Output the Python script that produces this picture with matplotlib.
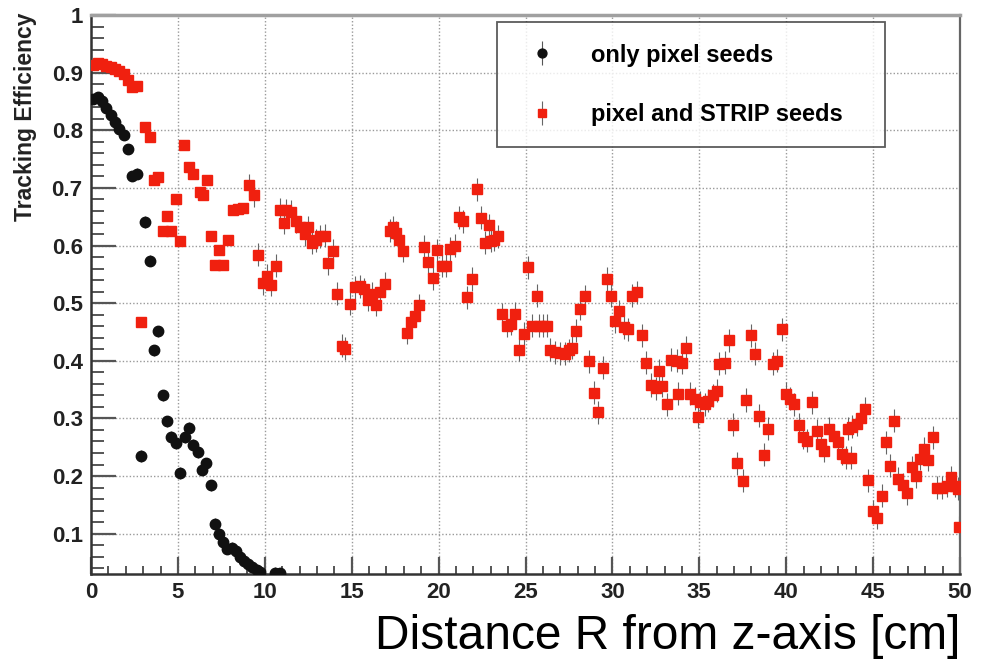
import matplotlib
matplotlib.use("Agg")
import matplotlib.pyplot as plt
import numpy as np
from matplotlib.ticker import MultipleLocator, FormatStrFormatter

plt.rcParams["font.family"] = ["Liberation Sans", "DejaVu Sans"]

# only pixel seeds
pix_x = [0.13, 0.38, 0.63, 0.88, 1.13, 1.38, 1.63, 1.88, 2.13, 2.38, 2.63, 2.88,
         3.13, 3.38, 3.63, 3.88, 4.13, 4.38, 4.63, 4.88, 5.13, 5.38, 5.63, 5.88,
         6.13, 6.38, 6.63, 6.88, 7.13, 7.38, 7.60, 7.80, 8.10, 8.35, 8.57, 8.82,
         9.05, 9.28, 9.53, 9.72, 10.60, 10.88]
pix_y = [0.855, 0.858, 0.850, 0.838, 0.826, 0.814, 0.802, 0.792, 0.767, 0.721, 0.725, 0.235,
         0.641, 0.574, 0.418, 0.451, 0.340, 0.295, 0.268, 0.257, 0.205, 0.268, 0.284, 0.254,
         0.241, 0.211, 0.222, 0.184, 0.117, 0.100, 0.086, 0.074, 0.075, 0.070, 0.060, 0.053,
         0.047, 0.042, 0.037, 0.033, 0.032, 0.031]

# pixel and STRIP seeds
strip_x = [0.13, 0.38, 0.63, 0.88, 1.13, 1.38, 1.63, 1.88, 2.13, 2.38, 2.63, 2.88,
           3.13, 3.38, 3.63, 3.88, 4.13, 4.38, 4.63, 4.88, 5.13, 5.35, 5.62, 5.88,
           6.25, 6.46, 6.68, 6.88, 7.13, 7.38, 7.62, 7.90, 8.19, 8.45, 8.72, 9.10,
           9.38, 9.63, 9.92, 10.10, 10.33, 10.66, 10.87, 11.10, 11.22, 11.50, 11.80, 12.05,
           12.30, 12.50, 12.70, 12.92, 13.20, 13.45, 13.65, 13.90, 14.14, 14.42, 14.61, 14.90,
           15.19, 15.45, 15.70, 15.93, 16.15, 16.38, 16.60, 16.90, 17.20, 17.35, 17.55, 17.72,
           17.93, 18.16, 18.41, 18.64, 18.89, 19.14, 19.39, 19.66, 19.89, 20.20, 20.45, 20.63,
           20.92, 21.18, 21.42, 21.66, 21.90, 22.19, 22.42, 22.67, 22.92, 23.00, 23.20, 23.40,
           23.63, 23.92, 24.17, 24.40, 24.65, 24.89, 25.12, 25.40, 25.66, 25.78, 26.02, 26.22,
           26.40, 26.70, 26.98, 27.27, 27.50, 27.70, 27.90, 28.14, 28.42, 28.67, 28.94, 29.19,
           29.44, 29.67, 29.92, 30.15, 30.40, 30.65, 30.90, 31.11, 31.40, 31.68, 31.95, 32.20,
           32.50, 32.70, 32.84, 33.17, 33.40, 33.70, 33.78, 34.00, 34.22, 34.46, 34.75, 34.94,
           35.06, 35.33, 35.52, 35.81, 36.00, 36.15, 36.48, 36.73, 36.96, 37.19, 37.49, 37.69,
           37.97, 38.20, 38.45, 38.72, 38.97, 39.22, 39.49, 39.74, 39.99, 40.22, 40.47, 40.74,
           40.95, 41.21, 41.46, 41.75, 41.98, 42.17, 42.48, 42.77, 43.00, 43.20, 43.45, 43.55,
           43.71, 43.80, 44.06, 44.28, 44.53, 44.73, 44.98, 45.21, 45.50, 45.72, 45.97, 46.22,
           46.45, 46.70, 46.93, 47.22, 47.47, 47.70, 47.93, 48.18, 48.43, 48.66, 48.94, 49.23,
           49.48, 49.71, 49.88, 49.97]
strip_y = [0.914, 0.916, 0.915, 0.912, 0.909, 0.906, 0.903, 0.898, 0.888, 0.876, 0.877, 0.467,
           0.806, 0.789, 0.714, 0.719, 0.626, 0.652, 0.626, 0.681, 0.608, 0.775, 0.736, 0.724,
           0.693, 0.688, 0.713, 0.617, 0.566, 0.593, 0.566, 0.609, 0.662, 0.664, 0.666, 0.705,
           0.687, 0.584, 0.535, 0.548, 0.532, 0.565, 0.662, 0.640, 0.661, 0.659, 0.642, 0.632,
           0.620, 0.632, 0.605, 0.609, 0.616, 0.617, 0.569, 0.591, 0.516, 0.426, 0.421, 0.499,
           0.528, 0.529, 0.524, 0.506, 0.516, 0.497, 0.520, 0.534, 0.626, 0.632, 0.622, 0.610,
           0.591, 0.449, 0.467, 0.478, 0.496, 0.598, 0.571, 0.543, 0.592, 0.565, 0.565, 0.594,
           0.600, 0.649, 0.642, 0.510, 0.542, 0.698, 0.648, 0.605, 0.635, 0.608, 0.610, 0.616,
           0.481, 0.461, 0.464, 0.482, 0.419, 0.447, 0.562, 0.461, 0.513, 0.461, 0.461, 0.461,
           0.419, 0.415, 0.413, 0.412, 0.418, 0.423, 0.452, 0.490, 0.512, 0.399, 0.345, 0.311,
           0.388, 0.542, 0.513, 0.469, 0.486, 0.458, 0.455, 0.513, 0.519, 0.444, 0.397, 0.358,
           0.352, 0.383, 0.357, 0.325, 0.402, 0.400, 0.343, 0.397, 0.423, 0.343, 0.334, 0.303,
           0.328, 0.325, 0.331, 0.340, 0.348, 0.395, 0.397, 0.436, 0.289, 0.222, 0.192, 0.332,
           0.444, 0.412, 0.305, 0.237, 0.282, 0.395, 0.400, 0.455, 0.343, 0.334, 0.325, 0.289,
           0.267, 0.261, 0.328, 0.279, 0.256, 0.244, 0.282, 0.270, 0.259, 0.239, 0.232, 0.282,
           0.232, 0.286, 0.290, 0.301, 0.317, 0.193, 0.139, 0.128, 0.166, 0.259, 0.218, 0.296,
           0.195, 0.185, 0.170, 0.215, 0.200, 0.230, 0.247, 0.228, 0.267, 0.180, 0.180, 0.183,
           0.198, 0.183, 0.178, 0.111]

pix_x = np.array(pix_x)
strip_x = np.array(strip_x)
# rough error sizes: tiny near the beam line, larger further out
pix_err = np.where(pix_x < 2.5, 0.004, 0.010)
strip_err = np.where(strip_x < 9, 0.006, 0.02)

red = "#f0200f"

fig = plt.figure(figsize=(9.84, 6.63), dpi=100)
ax = fig.add_axes([0.0925, 0.1342, 0.8831, 0.8431])

ax.errorbar(pix_x, pix_y, yerr=pix_err, fmt="o", color="#111111", ms=7.5,
            ecolor="#555555", elinewidth=0.8, capsize=0, label="only pixel seeds", zorder=3)
ax.errorbar(strip_x, strip_y, yerr=strip_err, fmt="s", color=red, mec=red, ms=7.3,
            ecolor="#666666", elinewidth=0.8, capsize=0, label="pixel and STRIP seeds", zorder=4)

ax.set_xlim(0, 50)
ax.set_ylim(0.03, 1.0)
ax.xaxis.set_major_locator(MultipleLocator(5))
ax.xaxis.set_minor_locator(MultipleLocator(1))
ax.yaxis.set_major_locator(MultipleLocator(0.1))
ax.yaxis.set_minor_locator(MultipleLocator(0.02))
ax.yaxis.set_major_formatter(FormatStrFormatter("%g"))

ax.grid(True, which="major", color="#9a9a9a", linestyle=(0, (1, 1.5)), linewidth=1)
ax.set_axisbelow(True)

ax.tick_params(axis="y", which="major", direction="in", length=18, width=1.6,
               color="#555555", labelsize=16, pad=6)
ax.tick_params(axis="y", which="minor", direction="in", length=9, width=1.4, color="#555555")
ax.tick_params(axis="x", which="major", direction="in", length=12, width=1.6,
               color="#555555", labelsize=16, pad=6)
ax.tick_params(axis="x", which="minor", direction="in", length=6, width=1.4, color="#555555")
for lab in ax.get_xticklabels() + ax.get_yticklabels():
    lab.set_fontweight("bold")
    lab.set_color("#222222")

ax.spines["left"].set_color("#333333")
ax.spines["left"].set_linewidth(1.8)
ax.spines["bottom"].set_color("#333333")
ax.spines["bottom"].set_linewidth(1.8)
ax.spines["top"].set_color("#a0a0a0")
ax.spines["top"].set_linewidth(2.5)
ax.spines["right"].set_color("#666666")
ax.spines["right"].set_linewidth(1.6)

ax.set_ylabel("Tracking Efficiency", fontsize=16.5, fontweight="bold", loc="top", color="#222222")
ax.yaxis.set_label_coords(-0.062, 1.005)
ax.set_xlabel("Distance R from z-axis [cm]", fontsize=34.5, loc="right")
ax.xaxis.set_label_coords(1.0, -0.072)

leg = ax.legend(loc="upper left", bbox_to_anchor=(0.467, 0.755, 0.447, 0.232), mode="expand",
                prop={"weight": "bold", "size": 17}, frameon=True, fancybox=False,
                borderpad=0.9, labelspacing=1.55, handletextpad=1.1, handlelength=2.0,
                borderaxespad=0, markerscale=0.85)
leg.get_frame().set_edgecolor("#333333")
leg.get_frame().set_linewidth(1.3)

fig.savefig("out.png", dpi=100)
